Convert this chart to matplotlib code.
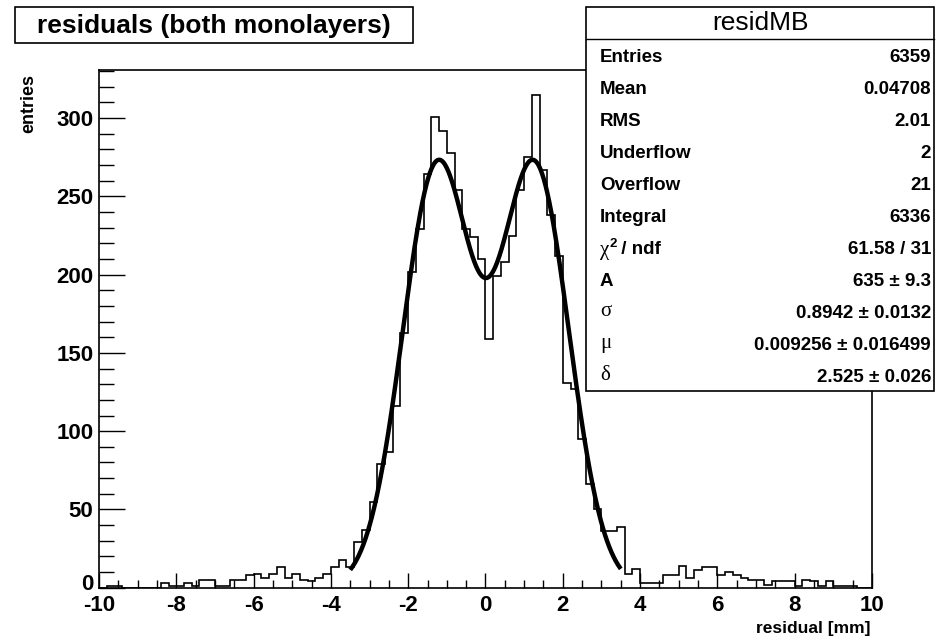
import numpy as np
import matplotlib
matplotlib.use("Agg")
import matplotlib.pyplot as plt
import matplotlib.transforms as mtransforms
from matplotlib.ticker import MultipleLocator
from matplotlib.patches import Rectangle
from matplotlib.lines import Line2D

plt.rcParams["axes.unicode_minus"] = False

# ---------------- data ----------------
bin_edges_range = (-10.0, 10.0)
n_bins = 100
counts = [
    0, 1, 1, 0, 0, 0, 0, 0, 3, 1,
    1, 3, 1, 5, 5, 1, 1, 5, 5, 8,
    9, 6, 9, 13, 6, 9, 5, 4, 6, 9,
    13, 18, 13, 29, 37, 55, 79, 87, 116, 163,
    202, 229, 264, 301, 292, 278, 254, 229, 224, 210,
    159, 199, 208, 225, 254, 275, 315, 267, 238, 212,
    131, 127, 95, 66, 50, 36, 36, 39, 9, 12,
    3, 3, 3, 8, 8, 14, 6, 11, 13, 13,
    8, 10, 8, 6, 5, 5, 2, 4, 4, 4,
    1, 5, 4, 1, 4, 1, 1, 1, 0, 0,
]
fit_sigma = 0.8942
fit_mu = 0.009256
fit_delta = 2.525
fit_height = 268.0          # height of each gaussian component as drawn
fit_range = (-3.5, 3.5)

stat_labels = ["Entries", "Mean", "RMS", "Underflow", "Overflow", "Integral",
               "chi2", "A", "σ", "μ", "δ"]
stat_values = ["6359", "0.04708", "2.01", "2", "21", "6336",
               "61.58 / 31", "635 ± 9.3", "0.8942 ± 0.0132",
               "0.009256 ± 0.016499", "2.525 ± 0.026"]
title = "residuals (both monolayers)"
stats_name = "residMB"
x_ticks = [-10, -8, -6, -4, -2, 0, 2, 4, 6, 8, 10]
y_ticks = [0, 50, 100, 150, 200, 250, 300]

# ---------------- figure ----------------
W, H = 936, 639
fig = plt.figure(figsize=(W / 100, H / 100), dpi=100)
SANS = "Liberation Sans"
SERIF = "Liberation Serif"

def fx(px):
    return px / W

def fy(py):
    return 1 - py / H

ax_l, ax_r, ax_t, ax_b = 99, 872, 70, 587.7
ax = fig.add_axes([fx(ax_l), fy(ax_b), (ax_r - ax_l) / W, (ax_b - ax_t) / H])

edges = np.linspace(bin_edges_range[0], bin_edges_range[1], n_bins + 1)
counts_arr = np.array(counts, dtype=float)
ax.stairs(counts_arr, edges, color="black", lw=1.2, baseline=0)

xf = np.linspace(fit_range[0], fit_range[1], 500)
g1 = np.exp(-((xf - fit_mu - fit_delta / 2) ** 2) / (2 * fit_sigma ** 2))
g2 = np.exp(-((xf - fit_mu + fit_delta / 2) ** 2) / (2 * fit_sigma ** 2))
ax.plot(xf, fit_height * (g1 + g2), color="black", lw=3.2, solid_capstyle="butt")

ax.set_xlim(-10, 10)
ax.set_ylim(0, 1.05 * max(counts))
ax.set_xticks(x_ticks)
ax.set_yticks(y_ticks)
ax.xaxis.set_minor_locator(MultipleLocator(0.5))
ax.yaxis.set_minor_locator(MultipleLocator(10))
ax.tick_params(axis="x", which="major", direction="in", length=10.8, width=1.0,
               top=False, pad=5.2)
ax.tick_params(axis="x", which="minor", direction="in", length=5.5, width=1.0, top=False)
ax.tick_params(axis="y", which="major", direction="in", length=18.7, width=1.0,
               right=False, pad=4.0)
ax.tick_params(axis="y", which="minor", direction="in", length=10.5, width=1.0, right=False)
for lab in ax.get_xticklabels() + ax.get_yticklabels():
    lab.set_fontfamily(SANS)
    lab.set_fontweight("bold")
    lab.set_fontsize(16)
# raise the "0" label of the y axis a little, as in the reference
ylab0 = ax.yaxis.get_major_ticks()[0].label1
ylab0.set_transform(ylab0.get_transform() +
                    mtransforms.ScaledTranslation(0, 6 / 100, fig.dpi_scale_trans))
for sp in ax.spines.values():
    sp.set_linewidth(1.2)

fig.text(fx(870), fy(628), "residual [mm]", ha="right", va="center",
         fontfamily=SANS, fontweight="bold", fontsize=12.5)
fig.text(fx(29), fy(74), "entries", ha="center", va="top", rotation=90,
         fontfamily=SANS, fontweight="bold", fontsize=13)

# title box
fig.add_artist(Rectangle((fx(15), fy(43)), (413 - 15) / W, (43 - 7) / H,
                         transform=fig.transFigure, fill=True, facecolor="white",
                         edgecolor="black", lw=1.2))
fig.text(fx(214), fy(25.5), title, ha="center", va="center",
         fontfamily=SANS, fontweight="bold", fontsize=19)

# stats box
sb_l, sb_r, sb_t, sb_b, sb_h = 586, 934, 7, 391, 39
fig.add_artist(Rectangle((fx(sb_l), fy(sb_b)), (sb_r - sb_l) / W, (sb_b - sb_t) / H,
                         transform=fig.transFigure, facecolor="white",
                         edgecolor="black", lw=1.2, zorder=5))
fig.add_artist(Line2D([fx(sb_l), fx(sb_r)], [fy(sb_h), fy(sb_h)],
                      transform=fig.transFigure, color="black", lw=1.0, zorder=6))
fig.text(fx((sb_l + sb_r) / 2), fy(23), stats_name, ha="center", va="center",
         fontfamily=SANS, fontsize=19, zorder=7)
row_h = (sb_b - sb_h) / len(stat_labels)
for i, (lab, val) in enumerate(zip(stat_labels, stat_values)):
    yc = sb_h + row_h * (i + 0.5) + 2.5
    if lab == "chi2":
        fig.text(fx(600), fy(yc + 1), "χ", ha="left", va="center",
                 fontfamily=SERIF, fontsize=15, zorder=7)
        fig.text(fx(609), fy(yc - 6), "2", ha="left", va="center",
                 fontfamily=SANS, fontweight="bold", fontsize=9.5, zorder=7)
        fig.text(fx(616), fy(yc), " / ndf", ha="left", va="center",
                 fontfamily=SANS, fontweight="bold", fontsize=13.5, zorder=7)
    elif lab in ("σ", "μ", "δ"):
        fig.text(fx(600), fy(yc - 2), lab, ha="left", va="center",
                 fontfamily=SERIF, fontsize=15, zorder=7)
    else:
        fig.text(fx(600), fy(yc), lab, ha="left", va="center",
                 fontfamily=SANS, fontweight="bold", fontsize=13.5, zorder=7)
    fig.text(fx(931), fy(yc), val, ha="right", va="center",
             fontfamily=SANS, fontweight="bold", fontsize=13.5, zorder=7)

fig.savefig("out.png", dpi=100)
